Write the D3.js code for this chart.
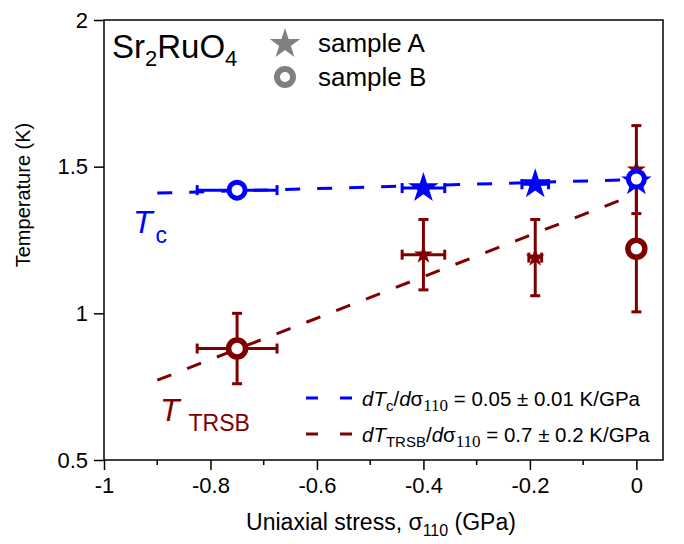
<!DOCTYPE html>
<html>
<head>
<meta charset="utf-8">
<script src="https://cdn.jsdelivr.net/npm/d3@7"></script>
<style>
  body { margin: 0; background: #fff; }
  text { font-family: Arial, "Liberation Sans", sans-serif; }
</style>
</head>
<body>
<div id="chart"></div>
<script>
// tick values
var xTicks = [-1, -0.8, -0.6, -0.4, -0.2, 0];
var xMinorTicks = [-0.9, -0.7, -0.5, -0.3, -0.1];
var yTicks = [0.5, 1, 1.5, 2];

// sample A (stars): stress, stress error, Tc, T_TRSB and its error
var aStress = [-0.4, -0.19, 0];
var aStressErr = [0.04, 0.025, 0];
var aTc = [1.427, 1.44, 1.45];
var aTrsb = [1.2, 1.19, 1.49];
var aTrsbErr = [0.12, 0.13, 0.15];
var aTrsbStressErr = [0.04, 0.012, 0];

// sample B (circles)
var bStress = [-0.75, 0];
var bStressErr = [0.075, 0];
var bTc = [1.42, 1.458];
var bTrsb = [0.88, 1.22];
var bTrsbErr = [0.12, 0.215];

// linear fits (dashed lines)
var fitTcStress = [-0.9, 0];
var fitTc = [1.41, 1.456];
var fitTrsbStress = [-0.9, -0.01];
var fitTrsb = [0.772, 1.4];

var blue = "#0000ff";
var red = "#800000";
var grey = "#808080";

var width = 684, height = 544;
var plotLeft = 104, plotRight = 663, plotTop = 20, plotBottom = 460;

var svg = d3.select("#chart").append("svg")
  .attr("width", width)
  .attr("height", height);

var x = d3.scaleLinear().domain([-1, 0.05]).range([plotLeft, plotRight]);
var y = d3.scaleLinear().domain([0.5, 2]).range([plotBottom, plotTop]);

// star symbol with a given outer radius
function star(r) {
  return d3.symbol().type(d3.symbolStar).size(r * r / 0.8908130915292852)();
}

// frame
svg.append("rect")
  .attr("x", plotLeft).attr("y", plotTop)
  .attr("width", plotRight - plotLeft).attr("height", plotBottom - plotTop)
  .attr("fill", "none").attr("stroke", "#000").attr("stroke-width", 1.5);

// x axis
var xAxis = svg.append("g")
  .attr("transform", "translate(0," + plotBottom + ")")
  .call(d3.axisBottom(x).tickValues(xTicks).tickSize(10).tickSizeOuter(0).tickPadding(7)
    .tickFormat(function(d) { return d === 0 ? "0" : String(d); }));
xAxis.select(".domain").remove();
xAxis.selectAll("line").attr("stroke", "#000").attr("stroke-width", 1.5);
xAxis.selectAll("text").attr("font-size", 22).attr("fill", "#000")
  .attr("font-family", "Arial, 'Liberation Sans', sans-serif");

svg.append("g").selectAll("line")
  .data(xMinorTicks)
  .enter().append("line")
  .attr("x1", function(d) { return x(d); })
  .attr("x2", function(d) { return x(d); })
  .attr("y1", plotBottom).attr("y2", plotBottom + 5)
  .attr("stroke", "#000").attr("stroke-width", 1.5);

// y axis
var yAxis = svg.append("g")
  .attr("transform", "translate(" + plotLeft + ",0)")
  .call(d3.axisLeft(y).tickValues(yTicks).tickSize(10).tickSizeOuter(0).tickPadding(6)
    .tickFormat(function(d) { return String(d); }));
yAxis.select(".domain").remove();
yAxis.selectAll("line").attr("stroke", "#000").attr("stroke-width", 1.5);
yAxis.selectAll("text").attr("font-size", 22).attr("fill", "#000")
  .attr("font-family", "Arial, 'Liberation Sans', sans-serif");

// axis titles
var xt = svg.append("text")
  .attr("x", 381).attr("y", 530)
  .attr("text-anchor", "middle")
  .attr("font-size", 23);
xt.append("tspan").text("Uniaxial stress, σ");
xt.append("tspan").attr("font-size", 16).attr("dy", 6).text("110");
xt.append("tspan").attr("dy", -6).text(" (GPa)");

svg.append("text")
  .attr("transform", "translate(30,195) rotate(-90)")
  .attr("text-anchor", "middle")
  .attr("font-size", 20)
  .text("Temperature (K)");

// dashed fit lines
var line = d3.line()
  .x(function(d) { return x(d[0]); })
  .y(function(d) { return y(d[1]); });

svg.append("path")
  .attr("d", line(d3.zip(fitTrsbStress, fitTrsb)))
  .attr("fill", "none").attr("stroke", red).attr("stroke-width", 3)
  .attr("stroke-dasharray", "15,17");

svg.append("path")
  .attr("d", line(d3.zip(fitTcStress, fitTc)))
  .attr("fill", "none").attr("stroke", blue).attr("stroke-width", 3)
  .attr("stroke-dasharray", "15,17");

// error bars helper
function errorBars(g, xs, ys, xe, ye, color) {
  xs.forEach(function(xv, i) {
    var cx = x(xv), cy = y(ys[i]);
    if (xe && xe[i] > 0) {
      var x0 = x(xv - xe[i]), x1 = x(xv + xe[i]);
      g.append("line").attr("x1", x0).attr("x2", x1).attr("y1", cy).attr("y2", cy)
        .attr("stroke", color).attr("stroke-width", 3);
      [x0, x1].forEach(function(xx) {
        g.append("line").attr("x1", xx).attr("x2", xx).attr("y1", cy - 5).attr("y2", cy + 5)
          .attr("stroke", color).attr("stroke-width", 3);
      });
    }
    if (ye && ye[i] > 0) {
      var y0 = y(ys[i] - ye[i]), y1 = y(ys[i] + ye[i]);
      g.append("line").attr("x1", cx).attr("x2", cx).attr("y1", y0).attr("y2", y1)
        .attr("stroke", color).attr("stroke-width", 3);
      [y0, y1].forEach(function(yy) {
        g.append("line").attr("x1", cx - 5).attr("x2", cx + 5).attr("y1", yy).attr("y2", yy)
          .attr("stroke", color).attr("stroke-width", 3);
      });
    }
  });
}

// T_TRSB points (dark red)
var gRed = svg.append("g");
errorBars(gRed, aStress, aTrsb, aTrsbStressErr, aTrsbErr, red);
errorBars(gRed, bStress, bTrsb, bStressErr, bTrsbErr, red);

gRed.selectAll(".astar")
  .data(d3.zip(aStress, aTrsb))
  .enter().append("path")
  .attr("d", star(10))
  .attr("transform", function(d) { return "translate(" + x(d[0]) + "," + y(d[1]) + ")"; })
  .attr("fill", red);

gRed.selectAll(".bcirc")
  .data(d3.zip(bStress, bTrsb))
  .enter().append("circle")
  .attr("cx", function(d) { return x(d[0]); })
  .attr("cy", function(d) { return y(d[1]); })
  .attr("r", 8.5)
  .attr("fill", "#fff").attr("stroke", red).attr("stroke-width", 5.5);

// Tc points (blue)
var gBlue = svg.append("g");
errorBars(gBlue, aStress, aTc, aStressErr, null, blue);
errorBars(gBlue, bStress, bTc, bStressErr, null, blue);

gBlue.selectAll(".astar")
  .data(d3.zip(aStress, aTc))
  .enter().append("path")
  .attr("d", star(16))
  .attr("transform", function(d) { return "translate(" + x(d[0]) + "," + y(d[1]) + ")"; })
  .attr("fill", blue);

gBlue.selectAll(".bcirc")
  .data(d3.zip(bStress, bTc))
  .enter().append("circle")
  .attr("cx", function(d) { return x(d[0]); })
  .attr("cy", function(d) { return y(d[1]); })
  .attr("r", 8)
  .attr("fill", "#fff").attr("stroke", blue).attr("stroke-width", 5);

// compound label
var sr = svg.append("text").attr("x", 112).attr("y", 58).attr("font-size", 33);
sr.append("tspan").text("Sr");
sr.append("tspan").attr("font-size", 22).attr("dy", 8).text("2");
sr.append("tspan").attr("dy", -8).text("RuO");
sr.append("tspan").attr("font-size", 22).attr("dy", 8).text("4");

// sample legend
svg.append("path").attr("d", star(16))
  .attr("transform", "translate(285,44)").attr("fill", grey);
svg.append("circle").attr("cx", 285).attr("cy", 77).attr("r", 8)
  .attr("fill", "#fff").attr("stroke", grey).attr("stroke-width", 6);
svg.append("text").attr("x", 318).attr("y", 52).attr("font-size", 26).text("sample A");
svg.append("text").attr("x", 318).attr("y", 86).attr("font-size", 26).text("sample B");

// curve labels
var tc = svg.append("text").attr("x", 133).attr("y", 233).attr("fill", blue).attr("font-size", 32);
tc.append("tspan").attr("font-style", "italic").text("T");
tc.append("tspan").attr("font-size", 23).attr("dy", 10).attr("dx", 3).text("c");

var tr = svg.append("text").attr("x", 160).attr("y", 421).attr("fill", red).attr("font-size", 32);
tr.append("tspan").attr("font-style", "italic").text("T");
tr.append("tspan").attr("font-size", 23).attr("dy", 10).attr("dx", 9).text("TRSB");

// fit legend
function fitLegend(yy, color, sub, value) {
  svg.append("line")
    .attr("x1", 306).attr("x2", 354).attr("y1", yy).attr("y2", yy)
    .attr("stroke", color).attr("stroke-width", 3)
    .attr("stroke-dasharray", "12,22");
  var t = svg.append("text").attr("x", 362).attr("y", yy + 8).attr("font-size", 20.5);
  t.append("tspan").attr("font-style", "italic").text("dT");
  t.append("tspan").attr("font-size", 15).attr("dy", 5).text(sub);
  t.append("tspan").attr("dy", -5).text("/");
  t.append("tspan").attr("font-style", "italic").text("d");
  t.append("tspan").text("σ");
  t.append("tspan").attr("font-size", 17).attr("dy", 5)
    .attr("font-family", "'Liberation Serif', 'Times New Roman', serif").text("110");
  t.append("tspan").attr("dy", -5).text(" = " + value + " K/GPa");
}
fitLegend(398, blue, "c", "0.05 ± 0.01");
fitLegend(434, red, "TRSB", "0.7 ± 0.2");
</script>
</body>
</html>
